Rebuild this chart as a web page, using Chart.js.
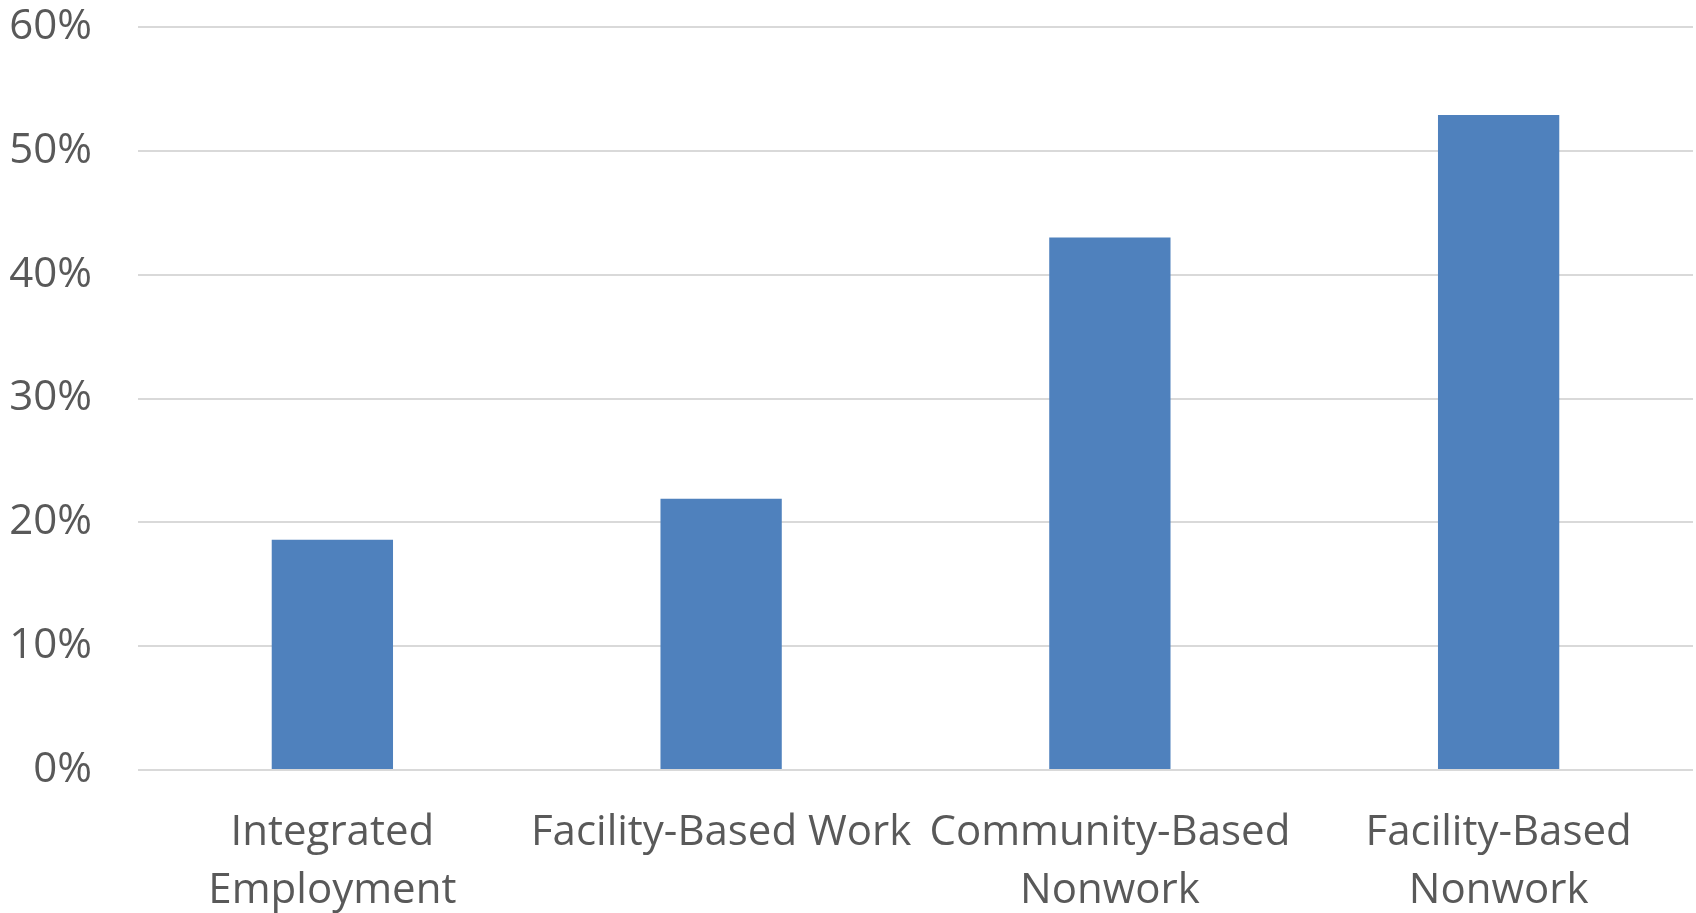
<!DOCTYPE html>
<html lang="en">
<head>
    <meta charset="UTF-8">
    <title>Share by setting</title>
    <script src="https://cdn.jsdelivr.net/npm/chart.js"></script>
    <style>
        html, body { margin: 0; padding: 0; background: #fff; }
        #wrap { width: 1696px; height: 913px; }
    </style>
</head>
<body>
    <div id="wrap"><canvas id="barChart"></canvas></div>

    <script>
        // categories (wrapped as in the original)
        const categories = [
            ['Integrated', 'Employment'],
            'Facility-Based Work',
            ['Community-Based', 'Nonwork'],
            ['Facility-Based', 'Nonwork']
        ];
        // percent values
        const values = [18.6, 21.9, 43.0, 52.9];
        const yTicks = [0, 10, 20, 30, 40, 50, 60];

        const fontFamily = '"Open Sans", "Noto Sans", sans-serif';
        const textColor = '#595959';

        const ctx = document.getElementById('barChart').getContext('2d');
        new Chart(ctx, {
            type: 'bar',
            data: {
                labels: categories,
                datasets: [{
                    data: values,
                    backgroundColor: '#4f81bd',
                    borderWidth: 0,
                    categoryPercentage: 1,
                    barPercentage: 0.312
                }]
            },
            options: {
                responsive: true,
                maintainAspectRatio: false,
                animation: false,
                layout: { padding: { top: 27, right: 3, left: 0, bottom: 0 } },
                plugins: {
                    legend: { display: false },
                    tooltip: { enabled: false }
                },
                scales: {
                    x: {
                        grid: { display: false, drawTicks: false },
                        border: { display: false },
                        ticks: {
                            color: textColor,
                            padding: 34,
                            maxRotation: 0,
                            autoSkip: false,
                            font: { family: fontFamily, size: 42, lineHeight: 1.38 }
                        },
                        afterFit: function(scale) { scale.height = 143; }
                    },
                    y: {
                        min: 0,
                        max: 60,
                        afterBuildTicks: function(scale) {
                            scale.ticks = yTicks.map(v => ({ value: v }));
                        },
                        grid: { color: '#d9d9d9', lineWidth: 2, drawTicks: false },
                        border: { display: false },
                        ticks: {
                            color: textColor,
                            padding: 46,
                            font: { family: fontFamily, size: 42 },
                            callback: function(v) { return v + '%'; }
                        },
                        afterFit: function(scale) {
                            scale.width = 138;
                            // tick padding would otherwise push the plot top down
                            scale.paddingTop = 0;
                            scale.paddingBottom = 0;
                        }
                    }
                }
            }
        });
    </script>
</body>
</html>
